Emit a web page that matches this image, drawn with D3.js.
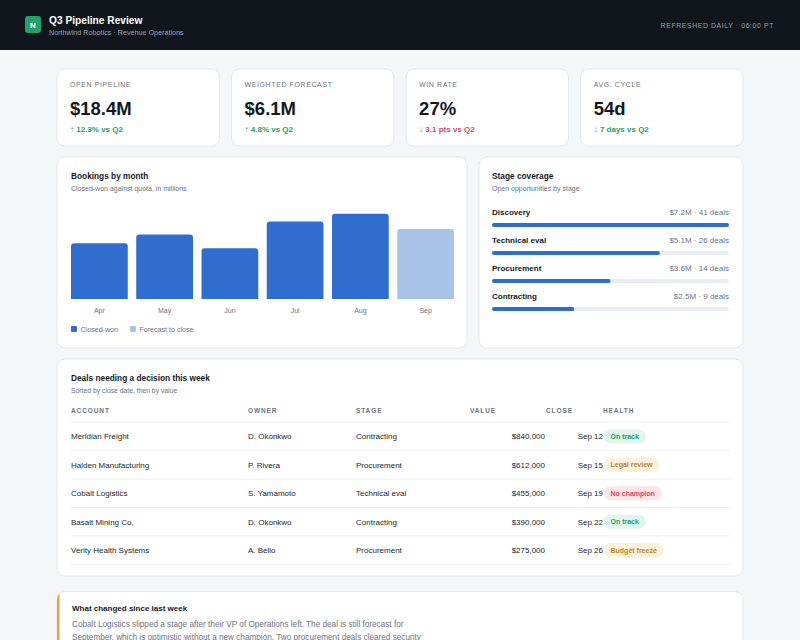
<!DOCTYPE html>
<html>
<head>
<meta charset="utf-8">
<script src="https://cdn.jsdelivr.net/npm/d3@7"></script>
<style>
  html, body { margin: 0; padding: 0; background: #f5f6f8; }
  svg { display: block; font-family: "Liberation Sans", Arial, Helvetica, sans-serif; }
</style>
</head>
<body>
<svg id="page" width="800" height="640"></svg>
<script>
// ---- data ----
const kpiLabels = ["OPEN PIPELINE", "WEIGHTED FORECAST", "WIN RATE", "AVG. CYCLE"];
const kpiValues = ["$18.4M", "$6.1M", "27%", "54d"];
const kpiDeltas = ["↑ 12.3% vs Q2", "↑ 4.8% vs Q2", "↓ 3.1 pts vs Q2", "↓ 7 days vs Q2"];
const kpiGood = [true, true, false, true];

const months = ["Apr", "May", "Jun", "Jul", "Aug", "Sep"];
const bookings = [1.9, 2.2, 1.73, 2.64, 2.9, 2.38];
const isForecast = [false, false, false, false, false, true];
const legendLabels = ["Closed-won", "Forecast to close"];

const stages = ["Discovery", "Technical eval", "Procurement", "Contracting"];
const stageValues = [7.2, 5.1, 3.6, 2.5];
const stageDeals = [41, 26, 14, 9];

const tableHeaders = ["ACCOUNT", "OWNER", "STAGE", "VALUE", "CLOSE", "HEALTH"];
const accounts = ["Meridian Freight", "Halden Manufacturing", "Cobalt Logistics", "Basalt Mining Co.", "Verity Health Systems"];
const owners = ["D. Okonkwo", "P. Rivera", "S. Yamamoto", "D. Okonkwo", "A. Bello"];
const dealStages = ["Contracting", "Procurement", "Technical eval", "Contracting", "Procurement"];
const dealValues = [840000, 612000, 455000, 390000, 275000];
const closeDates = ["Sep 12", "Sep 15", "Sep 19", "Sep 22", "Sep 26"];
const health = ["On track", "Legal review", "No champion", "On track", "Budget freeze"];
const healthKind = ["good", "warn", "bad", "good", "warn"];

const noteTitle = "What changed since last week";
const noteLines = [
  "Cobalt Logistics slipped a stage after their VP of Operations left. The deal is still forecast for",
  "September, which is optimistic without a new champion. Two procurement deals cleared security"
];

// ---- colours ----
const ink = "#15181d", muted = "#6b7280", border = "#e6e8ec";
const green = "#2a9d68", red = "#d2486a";
const pillColors = {
  good: {bg: "#e2f5ec", fg: "#2a9d68"},
  warn: {bg: "#fdf1dc", fg: "#b8862e"},
  bad:  {bg: "#fde4e9", fg: "#d2486a"}
};

const svg = d3.select("#page");

// page background + header bar
svg.append("rect").attr("width", 800).attr("height", 640).attr("fill", "#f5f6f8");
svg.append("rect").attr("width", 800).attr("height", 50).attr("fill", "#11151c");

svg.append("rect").attr("x", 25).attr("y", 16).attr("width", 16).attr("height", 17)
    .attr("rx", 3).attr("fill", "#26a06a");
svg.append("text").attr("x", 33).attr("y", 27.5).attr("text-anchor", "middle")
    .attr("fill", "#fff").attr("font-size", 8).attr("font-weight", "bold").text("N");
svg.append("text").attr("x", 49).attr("y", 23.5).attr("fill", "#fff")
    .attr("font-size", 10.2).attr("font-weight", "bold").text("Q3 Pipeline Review");
svg.append("text").attr("x", 49).attr("y", 35).attr("fill", "#9aa1ab")
    .attr("font-size", 7.2).text("Northwind Robotics · Revenue Operations");
svg.append("text").attr("x", 774).attr("y", 27.5).attr("text-anchor", "end")
    .attr("fill", "#9aa1ab").attr("font-size", 6.9).attr("letter-spacing", 0.6)
    .text("REFRESHED DAILY · 06:00 PT");

function card(x, y, w, h) {
  return svg.append("rect").attr("x", x).attr("y", y).attr("width", w).attr("height", h)
      .attr("rx", 8).attr("fill", "#fff").attr("stroke", border).attr("stroke-width", 1);
}

// ---- KPI cards ----
const kpiX = d3.scaleBand().domain(d3.range(kpiLabels.length)).range([57, 743]).paddingInner(0.07);
kpiLabels.forEach((lab, i) => {
  const x0 = kpiX(i);
  card(x0, 69, kpiX.bandwidth(), 77);
  const g = svg.append("g").attr("transform", `translate(${x0 + 13},0)`);
  g.append("text").attr("y", 87).attr("fill", muted).attr("font-size", 7)
      .attr("letter-spacing", 0.6).text(lab);
  g.append("text").attr("y", 115).attr("fill", ink).attr("font-size", 18.5)
      .attr("font-weight", "bold").text(kpiValues[i]);
  g.append("text").attr("y", 132).attr("fill", kpiGood[i] ? green : red)
      .attr("font-size", 8).attr("font-weight", "bold").text(kpiDeltas[i]);
});

// ---- Bookings by month ----
card(57, 157, 410, 191);
svg.append("text").attr("x", 71).attr("y", 179).attr("fill", ink).attr("font-size", 8.3)
    .attr("font-weight", "bold").text("Bookings by month");
svg.append("text").attr("x", 71).attr("y", 191).attr("fill", muted).attr("font-size", 7)
    .text("Closed-won against quota, in millions");

const baseY = 299;
const x = d3.scaleBand().domain(months).range([71, 454]).paddingInner(0.13).paddingOuter(0);
const y = d3.scaleLinear().domain([0, 3.2]).range([baseY, baseY - 94]);

function topRounded(x0, y0, w, h, r) {
  return `M${x0},${y0 + h}V${y0 + r}Q${x0},${y0} ${x0 + r},${y0}H${x0 + w - r}Q${x0 + w},${y0} ${x0 + w},${y0 + r}V${y0 + h}Z`;
}

svg.append("g").selectAll("path")
  .data(months)
  .join("path")
    .attr("d", (m, i) => topRounded(x(m), y(bookings[i]), x.bandwidth(), baseY - y(bookings[i]), 3))
    .attr("fill", (m, i) => isForecast[i] ? "#a8c3ea" : "#2f6ecf");

const xAxis = svg.append("g").attr("transform", `translate(0,${baseY + 4})`)
    .call(d3.axisBottom(x).tickSize(0).tickPadding(5));
xAxis.select(".domain").remove();
xAxis.selectAll("text").attr("fill", muted).attr("font-size", 7)
    .attr("font-family", "Liberation Sans, Arial, sans-serif");

const legend = svg.append("g").attr("transform", "translate(71,329)");
let lx = 0;
legendLabels.forEach((lab, i) => {
  legend.append("rect").attr("x", lx).attr("y", -3).attr("width", 6).attr("height", 6)
      .attr("rx", 1).attr("fill", i === 0 ? "#2f6ecf" : "#a8c3ea");
  const t = legend.append("text").attr("x", lx + 9.5).attr("y", 2.6).attr("fill", muted)
      .attr("font-size", 7.1).text(lab);
  lx += 9.5 + t.node().getComputedTextLength() + 12;
});

// ---- Stage coverage ----
card(479, 157, 264, 191);
svg.append("text").attr("x", 492).attr("y", 179).attr("fill", ink).attr("font-size", 8.3)
    .attr("font-weight", "bold").text("Stage coverage");
svg.append("text").attr("x", 492).attr("y", 191).attr("fill", muted).attr("font-size", 7)
    .text("Open opportunities by stage");

const sx = d3.scaleLinear().domain([0, d3.max(stageValues)]).range([0, 237]);
const sy = d3.scaleBand().domain(stages).range([203, 315]);
const stageG = svg.append("g").selectAll("g").data(stages).join("g")
    .attr("transform", s => `translate(492,${sy(s)})`);
stageG.append("text").attr("y", 12).attr("fill", ink).attr("font-size", 8)
    .attr("font-weight", "bold").text(s => s);
stageG.append("text").attr("x", 237).attr("y", 12).attr("text-anchor", "end")
    .attr("fill", muted).attr("font-size", 8)
    .text((s, i) => `$${stageValues[i].toFixed(1)}M · ${stageDeals[i]} deals`);
stageG.append("rect").attr("y", 20).attr("width", 237).attr("height", 4).attr("rx", 2)
    .attr("fill", "#e9edf3");
stageG.append("rect").attr("y", 20).attr("width", (s, i) => sx(stageValues[i]))
    .attr("height", 4).attr("rx", 2).attr("fill", "#2f6ecf");

// ---- Deals table ----
card(57, 359, 686, 217);
svg.append("text").attr("x", 71).attr("y", 380.5).attr("fill", ink).attr("font-size", 8.3)
    .attr("font-weight", "bold").text("Deals needing a decision this week");
svg.append("text").attr("x", 71).attr("y", 393).attr("fill", muted).attr("font-size", 6.8)
    .text("Sorted by close date, then by value");

const colX = [71, 248, 356, 470, 546, 603];
svg.append("g").selectAll("text").data(tableHeaders).join("text")
    .attr("x", (d, i) => colX[i]).attr("y", 413).attr("fill", muted)
    .attr("font-size", 6.5).attr("font-weight", "bold").attr("letter-spacing", 0.9)
    .text(d => d);

const rowY = d3.scaleBand().domain(d3.range(accounts.length)).range([422.3, 564.3]);
svg.append("line").attr("x1", 71).attr("x2", 730).attr("y1", 422.3).attr("y2", 422.3)
    .attr("stroke", "#eceef1");
const money = d3.format("$,");
const rows = svg.append("g").selectAll("g").data(accounts).join("g")
    .attr("transform", (d, i) => `translate(0,${rowY(i)})`);
const ry = rowY.bandwidth() / 2 + 2.8;
rows.append("line").attr("x1", 71).attr("x2", 730)
    .attr("y1", rowY.bandwidth()).attr("y2", rowY.bandwidth()).attr("stroke", "#eceef1");
rows.append("text").attr("x", 71).attr("y", ry).attr("fill", "#23262b").attr("font-size", 8).text(d => d);
rows.append("text").attr("x", 248).attr("y", ry).attr("fill", "#23262b").attr("font-size", 8).text((d, i) => owners[i]);
rows.append("text").attr("x", 356).attr("y", ry).attr("fill", "#23262b").attr("font-size", 8).text((d, i) => dealStages[i]);
rows.append("text").attr("x", 545).attr("y", ry).attr("text-anchor", "end").attr("fill", "#23262b")
    .attr("font-size", 8).text((d, i) => money(dealValues[i]));
rows.append("text").attr("x", 603).attr("y", ry).attr("text-anchor", "end").attr("fill", "#23262b")
    .attr("font-size", 8).text((d, i) => closeDates[i]);
rows.each(function(d, i) {
  const g = d3.select(this);
  const c = pillColors[healthKind[i]];
  const pill = g.append("rect").attr("x", 603.5).attr("y", rowY.bandwidth() / 2 - 7)
      .attr("height", 14).attr("rx", 7).attr("fill", c.bg);
  const t = g.append("text").attr("x", 610.5).attr("y", rowY.bandwidth() / 2 + 2.6)
      .attr("fill", c.fg).attr("font-size", 7).attr("font-weight", "bold").text(health[i]);
  pill.attr("width", t.node().getComputedTextLength() + 14);
});

// ---- note card ----
const noteClip = svg.append("defs").append("clipPath").attr("id", "noteClip");
noteClip.append("rect").attr("x", 57).attr("y", 591.5).attr("width", 686).attr("height", 80).attr("rx", 8);
card(57, 591.5, 686, 80);
svg.append("rect").attr("x", 57).attr("y", 591.5).attr("width", 2.5).attr("height", 80)
    .attr("fill", "#e3a53a").attr("clip-path", "url(#noteClip)");
svg.append("text").attr("x", 72).attr("y", 611).attr("fill", ink).attr("font-size", 8)
    .attr("font-weight", "bold").text(noteTitle);
svg.append("g").selectAll("text").data(noteLines).join("text")
    .attr("x", 72).attr("y", (d, i) => 627 + i * 13).attr("fill", muted)
    .attr("font-size", 8.2).text(d => d);
</script>
</body>
</html>
